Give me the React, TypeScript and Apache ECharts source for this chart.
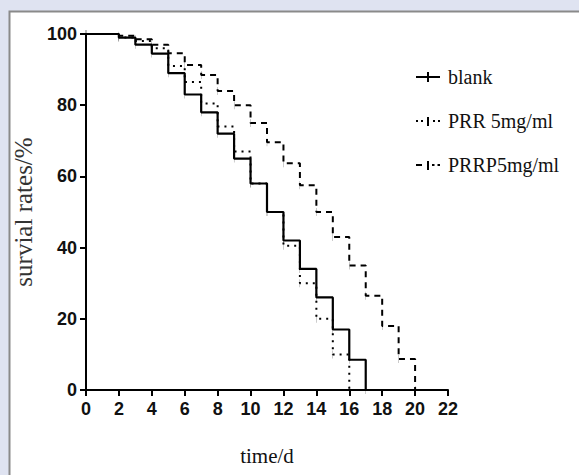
import React, { useEffect, useRef } from "react";
import * as echarts from "echarts";

const xTicks = [0, 2, 4, 6, 8, 10, 12, 14, 16, 18, 20, 22];
const yTicks = [0, 20, 40, 60, 80, 100];

const blankTime = [0, 2, 3, 4, 5, 6, 7, 8, 9, 10, 11, 12, 13, 14, 15, 16, 17];
const blankSurv = [100, 99, 97, 94.5, 89, 83, 78, 72, 65, 58, 50, 42, 34, 26, 17, 8.5, 0];

const prrTime = [0, 2, 3, 4, 5, 6, 7, 8, 9, 10, 11, 12, 13, 14, 15, 16];
const prrSurv = [100, 99, 98, 96, 91, 86.5, 80.5, 74, 67, 58, 50, 40.5, 30, 20, 10, 0];

const prrpTime = [0, 2, 3, 4, 5, 6, 7, 8, 9, 10, 11, 12, 13, 14, 15, 16, 17, 18, 19, 20];
const prrpSurv = [100, 99.5, 98.5, 97, 94.6, 91.3, 88.5, 84, 80, 75, 69.6, 63.7, 57.5, 50, 43, 35, 26.5, 18, 8.7, 0];

const seriesNames = ["blank", "PRR 5mg/ml", "PRRP5mg/ml"];

const zip = (t: number[], s: number[]) => t.map((x, i) => [x, s[i]]);

export default function App() {
  const ref = useRef<HTMLDivElement>(null);
  useEffect(() => {
    if (!ref.current) return;
    const chart = echarts.init(ref.current, null, { renderer: "svg" });
    const serif = "'Liberation Serif', 'Times New Roman', serif";
    const numFont = "'Liberation Sans Narrow', 'Arial Narrow', 'Liberation Sans', sans-serif";
    const tickSym = "path://M0 0H1V8H0Z";
    const icons = [
      "path://M0 4H24V6H0Z M11 0H13V10H11Z",
      "path://M0 4H2V6H0Z M5 4H7V6H5Z M11 1H13V10H11Z M17 4H19V6H17Z M22 4H24V6H22Z M0 0H0.01V0.01H0Z",
      "path://M0 4H6V6H0Z M11 1H13V10H11Z M16 4H18.5V6H16Z M21.5 4H24V6H21.5Z M0 0H0.01V0.01H0Z",
    ];
    const mkSeries = (name: string, data: number[][], type: any, width: number) => ({
      name,
      type: "line",
      step: "end",
      data,
      symbol: tickSym,
      symbolKeepAspect: true,
      symbolSize: [1.6, 8],
      showSymbol: true,
      itemStyle: { color: "#000", borderWidth: 0 },
      lineStyle: { color: "#000", width, type },
      emphasis: { disabled: true },
    });
    chart.setOption({
      animation: false,
      backgroundColor: "#dfe3f1",
      graphic: [
        {
          type: "rect",
          z: -10,
          shape: { x: 9.5, y: 11.5, width: 600, height: 500 },
          style: { fill: "#fff", stroke: "#8a8a8a", lineWidth: 2 },
          silent: true,
        },
      ],
      grid: { left: 86, top: 34, right: 131, bottom: 85 },
      legend: {
        orient: "vertical",
        left: 411,
        top: 62,
        itemWidth: 24,
        itemHeight: 10,
        itemGap: 24,
        itemStyle: { color: "#000", borderWidth: 0 },
        lineStyle: { width: 0 },
        data: seriesNames.map((n, i) => ({
          name: n,
          icon: icons[i],
          itemStyle: { color: "#000", borderWidth: 0, borderColor: "transparent" },
        })),
        textStyle: { fontFamily: serif, fontSize: 20, color: "#111", lineHeight: 20, padding: [0, 0, 0, 3] },
      },
      xAxis: {
        type: "value",
        min: 0,
        max: 22,
        interval: 2,
        name: "time/d",
        nameLocation: "middle",
        nameGap: 55,
        nameTextStyle: { fontFamily: serif, fontSize: 21, color: "#111" },
        axisLine: { onZero: false, lineStyle: { color: "#000", width: 2 } },
        axisTick: { show: true, length: 6, lineStyle: { color: "#000", width: 2 } },
        axisLabel: {
          margin: 10,
          fontFamily: numFont,
          fontWeight: "bold",
          fontSize: 18,
          color: "#111",
          formatter: (v: number) => (xTicks.includes(v) ? String(v) : ""),
        },
        splitLine: { show: false },
      },
      yAxis: {
        type: "value",
        min: 0,
        max: 100,
        interval: 20,
        name: "survial rates/%",
        nameLocation: "middle",
        nameGap: 45,
        nameTextStyle: { fontFamily: serif, fontSize: 25, color: "#333" },
        axisLine: { onZero: false, lineStyle: { color: "#000", width: 2 } },
        axisTick: { show: true, length: 6, lineStyle: { color: "#000", width: 2 } },
        axisLabel: {
          margin: 9,
          fontFamily: numFont,
          fontWeight: "bold",
          fontSize: 18,
          color: "#111",
          formatter: (v: number) => (yTicks.includes(v) ? String(v) : ""),
        },
        splitLine: { show: false },
      },
      series: [
        mkSeries(seriesNames[0], zip(blankTime, blankSurv), "solid", 2.2),
        mkSeries(seriesNames[1], zip(prrTime, prrSurv), [2, 5], 2),
        mkSeries(seriesNames[2], zip(prrpTime, prrpSurv), [6, 5], 2),
      ],
    });
    return () => chart.dispose();
  }, []);
  return (
    <div
      ref={ref}
      style={{ position: "fixed", left: 0, top: 0, width: 579, height: 475 }}
    />
  );
}
